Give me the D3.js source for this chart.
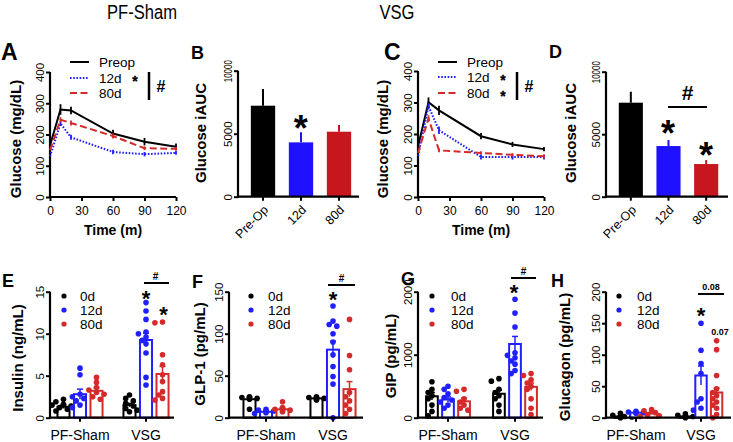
<!DOCTYPE html>
<html><head><meta charset="utf-8">
<script src="https://cdn.jsdelivr.net/npm/d3@7"></script>
<style>body{margin:0;background:#fff} svg{font-family:"Liberation Sans",Arial,sans-serif}</style>
</head><body><svg id="c" width="733" height="442"></svg>
<script>
// ---------------- DATA ----------------
const timePoints = [0, 10, 20, 60, 90, 120];
const timeTicks = [0, 30, 60, 90, 120];
const glucoseTicks = [0, 100, 200, 300, 400];
const seriesNames = ["Preop", "12d", "80d"];

const shamPreop = [165, 280, 277, 203, 177, 161];
const shamPreopErr = [0, 17, 12, 12, 12, 10];
const sham12d = [130, 235, 191, 144, 137, 141];
const sham12dErr = [0, 8, 8, 7, 7, 6];
const sham80d = [150, 247, 237, 195, 156, 154];
const sham80dErr = [0, 8, 8, 8, 6, 6];

const vsgPreop = [160, 301, 275, 193, 167, 152];
const vsgPreopErr = [0, 15, 15, 10, 8, 7];
const vsg12d = [130, 288, 212, 127, 127, 127];
const vsg12dErr = [0, 10, 12, 8, 8, 8];
const vsg80d = [140, 249, 148, 140, 134, 129];
const vsg80dErr = [0, 10, 6, 5, 5, 5];

const aucCategories = ["Pre-Op", "12d", "80d"];
const aucTicks = [0, 5000, 10000];
const shamAUC = [7222, 4312, 5159];
const shamAUCErr = [1323, 794, 529];
const vsgAUC = [7520, 4053, 2613];
const vsgAUCErr = [880, 480, 320];

const groups = ["PF-Sham", "VSG"];
const days = ["0d", "12d", "80d"];

const insulinTicks = [0, 5, 10, 15];
const insulinMean = {"PF-Sham": [1.3, 2.8, 3.2], "VSG": [1.5, 9.25, 5.2]};
const insulinErr = {"PF-Sham": [0.2, 0.6, 0.35], "VSG": [0.2, 0.8, 0.9]};
const insulinPoints = {
  "PF-Sham": [[2.2, 1.9, 1.6, 1.4, 1.2, 1.0, 0.8, 1.5], [5.9, 5.1, 2.8, 2.5, 2.3, 2.0, 1.5, 1.2], [4.8, 4.2, 3.6, 3.3, 3.0, 2.8, 2.5, 2.2]],
  "VSG": [[2.7, 2.3, 2.0, 1.7, 1.4, 1.1, 0.9, 0.7], [13.7, 12.7, 11.7, 10.2, 10.0, 9.6, 9.2, 8.8, 7.7, 4.8, 3.9], [11.4, 11.3, 7.5, 6.3, 5.1, 4.3, 3.1, 2.7, 2.3, 2.1]]
};

const glp1Ticks = [0, 50, 100, 150];
const glp1Mean = {"PF-Sham": [22, 7, 10], "VSG": [23, 81, 34]};
const glp1Err = {"PF-Sham": [2.5, 1, 1.5], "VSG": [1, 10, 9]};
const glp1Points = {
  "PF-Sham": [[25, 24, 23, 22, 10], [10, 9, 8, 7, 6, 5], [19, 12, 10, 9, 8, 7]],
  "VSG": [[25, 24, 23, 22, 21], [133, 115, 111, 109, 100, 90, 75, 61, 49, 40, 0], [117, 74, 57, 30, 25, 20, 15, 10, 5]]
};

const gipTicks = [0, 1000, 2000];
const gipMean = {"PF-Sham": [340, 290, 260], "VSG": [380, 1170, 490]};
const gipErr = {"PF-Sham": [60, 40, 50], "VSG": [55, 120, 60]};
const gipPoints = {
  "PF-Sham": [[570, 450, 400, 350, 300, 200, 100, 30], [500, 450, 380, 320, 280, 250, 200, 150], [450, 420, 300, 250, 200, 150, 120]],
  "VSG": [[620, 580, 450, 400, 350, 300, 200, 100], [1880, 1660, 1440, 1030, 990, 950, 900, 850, 750, 700], [700, 670, 600, 550, 500, 450, 300, 150, 50]]
};

const glucagonTicks = [0, 50, 100, 150, 200];
const glucagonMean = {"PF-Sham": [2, 8, 7], "VSG": [2, 67, 40]};
const glucagonErr = {"PF-Sham": [1, 1, 2], "VSG": [1, 15, 7]};
const glucagonPoints = {
  "PF-Sham": [[7, 4, 2, 1, 0], [10, 9, 8, 8, 7], [13, 11, 8, 5, 3, 2]],
  "VSG": [[6, 4, 2, 1, 0], [150, 107, 86, 70, 30, 25, 15, 12], [122, 108, 67, 46, 40, 35, 30, 25, 20, 15, 5, 0]]
};

// ---------------- STYLE ----------------
const BLACK = "#000", BLUE = "#2020ff", RED = "#d42a2a";
const BAR_BLUE = "#1f10ff", BAR_RED = "#c8161e";
const dayColors = [BLACK, BLUE, RED];
const svg = d3.select("#c");

function text(g, x, y, s, opts = {}) {
  const t = g.append("text").attr("x", x).attr("y", y).text(s)
    .attr("font-size", opts.fs || 12)
    .attr("font-weight", opts.bold ? "bold" : "normal")
    .attr("text-anchor", opts.anchor || "start")
    .attr("fill", opts.fill || "#000");
  if (opts.tl) t.attr("textLength", opts.tl).attr("lengthAdjust", "spacingAndGlyphs");
  return t;
}
function star(x, cy, fs, sw) {
  const t = text(svg, x, cy + 0.58 * fs, "*", {fs, bold: true, anchor: "middle"});
  if (sw) t.attr("stroke", "#000").attr("stroke-width", sw);
}
function vlabel(x, y, s, fs = 15) {
  svg.append("text").attr("transform", `translate(${x},${y}) rotate(-90)`)
    .attr("text-anchor", "middle").attr("dy", "0.35em")
    .attr("font-size", fs).attr("font-weight", "bold").text(s);
}
function axisLines(x0, x1, yTop, yBot) {
  svg.append("line").attr("x1", x0).attr("x2", x0).attr("y1", yTop).attr("y2", yBot + 1)
    .attr("stroke", "#000").attr("stroke-width", 2.2);
  svg.append("line").attr("x1", x0 - 1.1).attr("x2", x1).attr("y1", yBot).attr("y2", yBot)
    .attr("stroke", "#000").attr("stroke-width", 2.2);
}
function yTicks(y, x0, ticks, fs = 11.5) {
  const ax = svg.append("g").attr("transform", `translate(${x0},0)`)
    .call(d3.axisLeft(y).tickValues(ticks).tickSize(4).tickSizeOuter(0));
  ax.select(".domain").remove();
  ax.selectAll(".tick line").attr("stroke-width", 2);
  ax.selectAll(".tick text").remove();
  ax.selectAll(".tick").append("text")
    .attr("transform", "translate(-6,0) rotate(-90)")
    .attr("text-anchor", "middle").attr("fill", "#000")
    .attr("font-size", fs).attr("font-family", "Liberation Sans, Arial, sans-serif")
    .text(d => d)
    .each(function (d) { if (String(d).length >= 5) d3.select(this).attr("textLength", 22).attr("lengthAdjust", "spacingAndGlyphs"); });
  return ax;
}

// ---------------- TITLES ----------------
text(svg, 142, 19, "PF-Sham", {fs: 20, anchor: "middle", tl: 70});
text(svg, 397, 19, "VSG", {fs: 20, anchor: "middle", tl: 35});

// ---------------- TIME COURSE PANELS ----------------
function timePanel(cfg) {
  const x = d3.scaleLinear().domain([0, 120]).range([cfg.x0, cfg.x1]);
  const y = d3.scaleLinear().domain([0, 400]).range([cfg.yBot, cfg.yTop]);
  axisLines(cfg.x0, cfg.x1, cfg.yTop, cfg.yBot);
  yTicks(y, cfg.x0, glucoseTicks);
  const ax = svg.append("g").attr("transform", `translate(0,${cfg.yBot})`)
    .call(d3.axisBottom(x).tickValues(timeTicks).tickSize(4).tickSizeOuter(0));
  ax.select(".domain").remove();
  ax.selectAll(".tick line").attr("stroke-width", 2);
  ax.selectAll(".tick text").attr("y", 9).attr("font-size", 12).attr("fill", "#000")
    .attr("font-family", "Liberation Sans, Arial, sans-serif");
  const styles = [
    {c: BLACK, dash: null}, {c: BLUE, dash: "1.6,1.6"}, {c: RED, dash: "7,3.5"}
  ];
  const line = d3.line().x((d, i) => x(timePoints[i])).y(d => y(d));
  cfg.series.forEach((s, k) => {
    const st = styles[k];
    svg.append("path").attr("d", line(s.v)).attr("fill", "none")
      .attr("stroke", st.c).attr("stroke-width", 2)
      .attr("stroke-dasharray", st.dash);
    s.v.forEach((v, i) => {
      if (!s.e[i]) return;
      svg.append("line").attr("x1", x(timePoints[i])).attr("x2", x(timePoints[i]))
        .attr("y1", y(v - s.e[i])).attr("y2", y(v + s.e[i]))
        .attr("stroke", st.c).attr("stroke-width", 1.8);
    });
  });
  // legend
  seriesNames.forEach((n, k) => {
    const ly = cfg.legY[k];
    svg.append("line").attr("x1", cfg.legX).attr("x2", cfg.legX + 19).attr("y1", ly).attr("y2", ly)
      .attr("stroke", styles[k].c).attr("stroke-width", 2).attr("stroke-dasharray", styles[k].dash);
    text(svg, cfg.legX + 29, ly + 4.8, n, {fs: 13.5});
  });
  cfg.legStars.forEach(k => star(cfg.starX, cfg.legY[k], 14, 0.35));
  svg.append("line").attr("x1", cfg.barX).attr("x2", cfg.barX).attr("y1", 72).attr("y2", 100)
    .attr("stroke", "#000").attr("stroke-width", 2.5);
  text(svg, cfg.barX + 12, 91.5, "#", {fs: 16, bold: true, anchor: "middle"});
  text(svg, (cfg.x0 + cfg.x1) / 2, 235, "Time (m)", {fs: 14, bold: true, anchor: "middle"});
  vlabel(cfg.ylabX, 139, "Glucose (mg/dL)");
  text(svg, cfg.letX, 60, cfg.letter, {fs: 23, bold: true});
}

timePanel({x0: 50, x1: 176, yTop: 72, yBot: 197, letter: "A", letX: 1, ylabX: 16,
  series: [{v: shamPreop, e: shamPreopErr}, {v: sham12d, e: sham12dErr}, {v: sham80d, e: sham80dErr}],
  legX: 70, legY: [62, 78, 93], legStars: [1], starX: 135, barX: 149});
timePanel({x0: 418, x1: 544, yTop: 71, yBot: 197, letter: "C", letX: 384, ylabX: 383,
  series: [{v: vsgPreop, e: vsgPreopErr}, {v: vsg12d, e: vsg12dErr}, {v: vsg80d, e: vsg80dErr}],
  legX: 438, legY: [62, 77, 93], legStars: [1, 2], starX: 503, barX: 517});

// ---------------- AUC PANELS ----------------
function aucPanel(cfg) {
  const x = d3.scaleBand().domain(aucCategories).range([cfg.bx0, cfg.bx1]).paddingInner(0.36).paddingOuter(0.18);
  const y = d3.scaleLinear().domain([0, 10000]).range([cfg.yBot, cfg.yTop]);
  const cols = [BLACK, BAR_BLUE, BAR_RED];
  cfg.vals.forEach((v, i) => {
    const cx = x(aucCategories[i]) + x.bandwidth() / 2;
    svg.append("line").attr("x1", cx).attr("x2", cx).attr("y1", y(v)).attr("y2", y(v + cfg.errs[i]))
      .attr("stroke", cols[i]).attr("stroke-width", 2);
    svg.append("rect").attr("x", x(aucCategories[i])).attr("width", x.bandwidth())
      .attr("y", y(v)).attr("height", y(0) - y(v)).attr("fill", cols[i]);
  });
  axisLines(cfg.x0, cfg.x1, cfg.yTop, cfg.yBot);
  yTicks(y, cfg.x0, aucTicks);
  const ax = svg.append("g").attr("transform", `translate(0,${cfg.yBot})`)
    .call(d3.axisBottom(x).tickSize(4).tickSizeOuter(0));
  ax.select(".domain").remove();
  ax.selectAll(".tick line").attr("stroke-width", 2);
  ax.selectAll(".tick text").attr("y", 0).attr("dy", 0)
    .attr("transform", "translate(6,14) rotate(-45)").attr("text-anchor", "end")
    .attr("font-size", 12.5).attr("fill", "#000").attr("font-family", "Liberation Sans, Arial, sans-serif");
  vlabel(cfg.ylabX, 133, "Glucose iAUC");
  text(svg, cfg.letX, cfg.letY, cfg.letter, {fs: 18, bold: true});
  return {x, y};
}
aucPanel({x0: 238, x1: 359, bx0: 244, bx1: 358, yTop: 70.7, yBot: 196.7, vals: shamAUC, errs: shamAUCErr,
  ylabX: 201, letter: "B", letX: 191, letY: 59});
star(300.7, 120, 36);
aucPanel({x0: 606, x1: 728, bx0: 612, bx1: 725, yTop: 71.7, yBot: 196.7, vals: vsgAUC, errs: vsgAUCErr,
  ylabX: 571, letter: "D", letX: 549, letY: 58});
star(668, 125, 36);
star(706, 147, 36);
svg.append("line").attr("x1", 668).attr("x2", 707).attr("y1", 107).attr("y2", 107).attr("stroke", "#000").attr("stroke-width", 2);
text(svg, 687.5, 99.5, "#", {fs: 21, bold: true, anchor: "middle"});

// ---------------- HORMONE PANELS ----------------
function hormonePanel(cfg) {
  const y = d3.scaleLinear().domain([0, cfg.max]).range([417.7, 291.7]);
  const gx = d3.scalePoint().domain(groups).range(cfg.groupX);
  const sub = d3.scaleBand().domain(days).range([-cfg.step * 1.5, cfg.step * 1.5]).padding(0.27);
  const yb = y(0);
  groups.forEach(g => {
    days.forEach((d, k) => {
      const bx = gx(g) + sub(d);
      const cx = bx + sub.bandwidth() / 2;
      const m = cfg.mean[g][k];
      svg.append("rect").attr("x", bx).attr("width", sub.bandwidth())
        .attr("y", y(m)).attr("height", yb - y(m))
        .attr("fill", "#fff").attr("stroke", dayColors[k]).attr("stroke-width", 2);
      // beeswarm-like placement
      const placed = [];
      const offs = [0, -3.8, 3.8, -7.6, 7.6, -11.4, 11.4];
      cfg.pts[g][k].forEach(v => {
        const py = y(v);
        let ox = 0;
        for (const o of offs) {
          if (placed.every(p => Math.hypot(p[0] - o, p[1] - py) >= 4.6)) { ox = o; break; }
        }
        placed.push([ox, py]);
        svg.append("circle").attr("cx", cx + ox).attr("cy", py).attr("r", 2.8).attr("fill", dayColors[k]);
      });
      const e = cfg.err[g][k];
      svg.append("line").attr("x1", cx).attr("x2", cx).attr("y1", y(m - e)).attr("y2", y(m + e))
        .attr("stroke", dayColors[k]).attr("stroke-width", 1.5);
      svg.append("line").attr("x1", cx - 3).attr("x2", cx + 3).attr("y1", y(m + e)).attr("y2", y(m + e))
        .attr("stroke", dayColors[k]).attr("stroke-width", 1.5);
    });
    text(svg, gx(g), 440, g, {fs: 14, anchor: "middle"});
  });
  axisLines(cfg.x0, cfg.x1, 291.7, 417.7);
  yTicks(y, cfg.x0, cfg.ticks, 11.5);
  groups.forEach(g => {
    svg.append("line").attr("x1", gx(g)).attr("x2", gx(g)).attr("y1", yb).attr("y2", yb + 4)
      .attr("stroke", "#000").attr("stroke-width", 2);
  });
  days.forEach((d, k) => {
    const ly = [296, 310, 324][k];
    svg.append("circle").attr("cx", cfg.legDot).attr("cy", ly).attr("r", 2.6).attr("fill", dayColors[k]);
    text(svg, cfg.legText, ly + 4.8, d, {fs: 13.5});
  });
  vlabel(cfg.ylabX, cfg.ylabY, cfg.label);
  text(svg, cfg.letX, cfg.letY, cfg.letter, {fs: 18, bold: true});
  return {gx, sub, y};
}

hormonePanel({x0: 50, x1: 174, max: 15, ticks: insulinTicks, groupX: [80, 146], step: 18,
  mean: insulinMean, err: insulinErr, pts: insulinPoints, legDot: 64, legText: 80,
  ylabX: 18, ylabY: 358, label: "Insulin (ng/mL)", letter: "E", letX: 2, letY: 287});
star(146, 293, 22); star(163.5, 309, 22);
svg.append("line").attr("x1", 144).attr("x2", 169).attr("y1", 283).attr("y2", 283).attr("stroke", "#000").attr("stroke-width", 2);
text(svg, 155.5, 280, "#", {fs: 10, bold: true, anchor: "middle"});

hormonePanel({x0: 229, x1: 363, max: 150, ticks: glp1Ticks, groupX: [266, 333], step: 18,
  mean: glp1Mean, err: glp1Err, pts: glp1Points, legDot: 251, legText: 268,
  ylabX: 200, ylabY: 354, label: "GLP-1 (pg/mL)", letter: "F", letX: 192, letY: 288});
star(333, 294, 22);
svg.append("line").attr("x1", 328).attr("x2", 355).attr("y1", 285).attr("y2", 285).attr("stroke", "#000").attr("stroke-width", 2);
text(svg, 341.5, 282, "#", {fs: 10, bold: true, anchor: "middle"});

hormonePanel({x0: 418, x1: 543, max: 2000, ticks: gipTicks, groupX: [448, 515], step: 17.5,
  mean: gipMean, err: gipErr, pts: gipPoints, legDot: 432, legText: 451,
  ylabX: 391, ylabY: 356, label: "GIP (pg/mL)", letter: "G", letX: 401, letY: 285});
star(514, 287, 22);
svg.append("line").attr("x1", 511).attr("x2", 536).attr("y1", 278).attr("y2", 278).attr("stroke", "#000").attr("stroke-width", 2);
text(svg, 523.5, 275, "#", {fs: 10, bold: true, anchor: "middle"});

hormonePanel({x0: 606, x1: 731, max: 200, ticks: glucagonTicks, groupX: [636, 701], step: 17,
  mean: glucagonMean, err: glucagonErr, pts: glucagonPoints, legDot: 619, legText: 637,
  ylabX: 565, ylabY: 357, label: "Glucagon (pg/mL)", letter: "H", letX: 551, letY: 287});
star(701, 310, 22);
svg.append("line").attr("x1", 698).attr("x2", 724).attr("y1", 294).attr("y2", 294).attr("stroke", "#000").attr("stroke-width", 2);
text(svg, 711, 289.5, "0.08", {fs: 9, bold: true, anchor: "middle"});
text(svg, 720, 334.5, "0.07", {fs: 9, bold: true, anchor: "middle"});
</script></body></html>
